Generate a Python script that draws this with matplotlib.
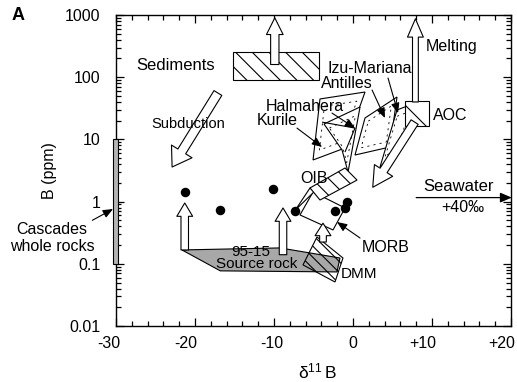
import numpy as np
import matplotlib
matplotlib.use("Agg")
import matplotlib.pyplot as plt
from matplotlib.patches import Polygon, Rectangle
from matplotlib.transforms import ScaledTranslation

plt.rcParams['font.family'] = ['Liberation Sans', 'DejaVu Sans']
plt.rcParams['mathtext.fontset'] = 'custom'
plt.rcParams['mathtext.rm'] = 'Liberation Sans'
plt.rcParams['mathtext.it'] = 'Liberation Sans:italic'
plt.rcParams['hatch.linewidth'] = 0.8

# ---- data (delta11B, B ppm) ----
dots_x = [-21.3, -16.8, -10.1, -7.3, -2.3, -1.0, -0.8]
dots_y = [1.43, 0.73, 1.6, 0.71, 0.71, 0.79, 0.99]

sediments_x = [-15.2, -4.3]
sediments_y = [90, 250]
aoc_x = [6.6, 9.6]
aoc_y = [16.4, 41]
cascades_y = [0.1, 10]

kurile = [(-4.18, 44.7), (1.52, 57.8), (-1.01, 7.28), (-5.06, 4.67)]
halmahera = [(-3.67, 17.7), (0.89, 33.2), (-0.63, 2.99), (-1.39, 6.77)]
halmahera_b = [(-3.92, 19.0), (0.25, 15.2), (-1.01, 6.27)]
antilles = [(1.52, 22.1), (5.57, 48.1), (4.68, 7.55), (0.25, 5.61)]
izu = [(5.57, 29.7), (7.85, 38.5), (5.70, 6.77), (3.42, 3.6)]
oib = [(-5.44, 1.66), (-1.01, 3.47), (0.51, 2.22), (-4.18, 1.06)]
oib_tail = [(-7.3, 0.73), (-5.44, 1.66), (-4.9, 1.45)]
morb = [(-6.71, 0.61), (-5.06, 1.43), (-1.01, 0.79), (-2.53, 0.35)]
dmm = [(-4.56, 0.27), (-1.27, 0.124), (-2.28, 0.051), (-6.33, 0.096)]
source_rock = [(-21.65, 0.167), (-9.24, 0.18), (-1.65, 0.124), (-2.03, 0.074), (-16.8, 0.077)]

# hollow arrows: (x_tail, y_tail, x_head, y_head, shaft, head width, head length)
hollow_arrows = [
    (-9.9, 160, -9.9, 900, 0.5, 1.0, 1.0),     # sediments up
    (7.9, 40, 7.9, 870, 0.35, 0.95, 1.1),      # melting
    (-17.1, 55.7, -22.9, 3.6, 0.55, 1.45, 1.1),  # subduction
    (7.8, 19, 2.5, 1.7, 0.5, 1.3, 1.2),        # AOC down
    (-21.3, 0.167, -21.3, 0.95, 0.45, 0.95, 0.8),
    (-8.86, 0.14, -8.86, 0.79, 0.45, 0.95, 0.8),
    (-3.8, 0.224, -3.8, 0.45, 0.4, 0.95, 0.75),
]

# labels with pointer arrows: text, text pos, arrow tail, arrow head
pointer_labels = [
    ('Izu-Mariana', (2.15, 140), (4.43, 97), (5.70, 26.5)),
    ('Antilles', (-0.76, 78), (2.41, 62.3), (4.05, 22.1)),
    ('Halmahera', (-6.08, 34.4), (-2.66, 26.5), (0.25, 15.2)),
    ('Kurile', (-9.62, 19.8), (-7.09, 15.2), (-3.92, 7.55)),
    ('MORB', (4.18, 0.186), (0.89, 0.26), (-2.03, 0.47)),
]

plain_labels = [
    ('Sediments', -22.4, 157, 12),
    ('Subduction', -20.9, 17.7, 10.5),
    ('Melting', 12.5, 306, 11.5),
    ('AOC', 12.3, 23.8, 11.5),
    ('OIB', -4.94, 2.39, 11.5),
    ('DMM', 0.76, 0.0686, 11),
    ('95-15', -13.0, 0.153, 11),
    ('Source rock', -12.15, 0.098, 11),
    ('Seawater', 13.4, 1.72, 12),
    ('+40‰', 13.9, 0.79, 11.5),
]

x_ticks = [-30, -20, -10, 0, 10, 20]
x_tick_labels = ['-30', '-20', '-10', '0', '+10', '+20']
x_label_shift = [-7, -9, -2, 0, -9, -9]   # px, labels sit left of their ticks
y_ticks = [0.01, 0.1, 1, 10, 100, 1000]
y_tick_labels = ['0.01', '0.1', '1', '10', '100', '1000']


def inner(poly, f=0.72):
    # shrink polygon towards its centroid in (x, log y) space
    xs = np.array([p[0] for p in poly])
    ly = np.log10([p[1] for p in poly])
    cx, cy = xs.mean(), ly.mean()
    return [(cx + f * (a - cx), 10 ** (cy + f * (b - cy))) for a, b in zip(xs, ly)]


fig = plt.figure(figsize=(5.17, 3.82), dpi=100)
ax = fig.add_axes([0.2244, 0.1466, 0.7640, 0.8141])
ax.set_xlim(-30, 20)
ax.set_yscale('log')
ax.set_ylim(0.01, 1000)

ax.set_xticks(x_ticks)
ax.set_xticklabels(x_tick_labels)
ax.set_xticks(np.arange(-30, 21, 2), minor=True)
ax.set_yticks(y_ticks)
ax.set_yticklabels(y_tick_labels)
ax.tick_params(which='both', direction='in', top=True, right=True, labelsize=11.5, width=0.9)
ax.tick_params(which='major', length=6)
ax.tick_params(which='minor', length=3.5)
ax.tick_params(axis='x', pad=7)
ax.tick_params(axis='y', pad=11)
for lbl, dx in zip(ax.get_xticklabels(), x_label_shift):
    lbl.set_transform(lbl.get_transform() + ScaledTranslation(dx / 100, 0, fig.dpi_scale_trans))
for s in ax.spines.values():
    s.set_linewidth(1.0)

ax.set_ylabel('B (ppm)', fontsize=11.5)
ax.yaxis.set_label_coords(-0.15, 0.5)
ax.set_xlabel(r'$\mathregular{\delta^{11}\,B}$', fontsize=12.5)
ax.xaxis.set_label_coords(0.511, -0.113)

# source rock field
ax.add_patch(Polygon(source_rock, closed=True, fc='#a8a8a8', ec='black', lw=0.8, zorder=2))
# DMM
ax.add_patch(Polygon(dmm, closed=True, fc='none', ec='black', hatch='\\\\\\', lw=0.8, zorder=3))

# arc fields
for poly in [kurile, halmahera, antilles, izu]:
    ax.add_patch(Polygon(poly, closed=True, fc='white', ec='black', lw=0.8, zorder=3))
    ax.add_patch(Polygon(inner(poly), closed=True, fc='none', ec='black', lw=0.6,
                         ls=(0, (2.5, 5)), zorder=3))
ax.add_patch(Polygon(halmahera_b, closed=False, fc='none', ec='black', lw=0.8, zorder=3))

# MORB and OIB
ax.add_patch(Polygon(morb, closed=True, fc='white', ec='black', lw=0.8, zorder=3))
ax.add_patch(Polygon(oib_tail, closed=True, fc='white', ec='black', lw=0.8, zorder=3))
ax.add_patch(Polygon(oib, closed=True, fc='white', ec='black', hatch='\\\\', lw=0.8, zorder=4))

# sediments and AOC boxes
ax.add_patch(Rectangle((sediments_x[0], sediments_y[0]), sediments_x[1] - sediments_x[0],
                       sediments_y[1] - sediments_y[0], fc='white', ec='black',
                       hatch='\\\\', lw=0.8, zorder=3))
ax.add_patch(Rectangle((aoc_x[0], aoc_y[0]), aoc_x[1] - aoc_x[0], aoc_y[1] - aoc_y[0],
                       fc='white', ec='black', hatch='\\', lw=0.8, zorder=3))

# Cascades bar on the y axis
ax.add_patch(Rectangle((-30.35, cascades_y[0]), 0.6, cascades_y[1] - cascades_y[0],
                       fc='#b4b4b4', ec='black', lw=0.8, zorder=6, clip_on=False))

# hollow arrows
for xt, yt, xh, yh, tw, hw, hl in hollow_arrows:
    ax.annotate('', xy=(xh, yh), xytext=(xt, yt), zorder=5,
                arrowprops=dict(arrowstyle=f'simple,head_length={hl},head_width={hw},tail_width={tw}',
                                fc='white', ec='black', lw=0.8, mutation_scale=12,
                                shrinkA=0, shrinkB=0))

# dots
ax.scatter(dots_x, dots_y, s=34, c='black', zorder=7)

# labels
for txt, x, y, fs in plain_labels:
    ax.text(x, y, txt, ha='center', va='center', fontsize=fs, zorder=8)

for txt, tpos, tail, head in pointer_labels:
    ax.text(tpos[0], tpos[1], txt, ha='center', va='center', fontsize=11.5, zorder=8)
    ax.annotate('', xy=head, xytext=tail, zorder=8,
                arrowprops=dict(arrowstyle='-|>,head_length=0.6,head_width=0.25',
                                fc='black', ec='black', lw=0.8, shrinkA=0, shrinkB=0))

# Seawater arrow
ax.annotate('', xy=(20.1, 1.16), xytext=(8.0, 1.16), annotation_clip=False, zorder=8,
            arrowprops=dict(arrowstyle='-|>,head_length=0.7,head_width=0.3',
                            fc='black', ec='black', lw=0.9, shrinkA=0, shrinkB=0))

# Cascades label
ax.text(-38.1, 0.26, 'Cascades\nwhole rocks', ha='center', va='center', fontsize=11.5,
        linespacing=1.15, clip_on=False)
ax.annotate('', xy=(-30.38, 0.76), xytext=(-33.0, 0.5), annotation_clip=False,
            arrowprops=dict(arrowstyle='-|>,head_length=0.6,head_width=0.25',
                            fc='black', ec='black', lw=0.8, shrinkA=0, shrinkB=0))

fig.text(18 / 517, 1 - 15 / 382, 'A', ha='center', va='center', fontsize=13, weight='bold')

fig.savefig('out.png', dpi=100)
